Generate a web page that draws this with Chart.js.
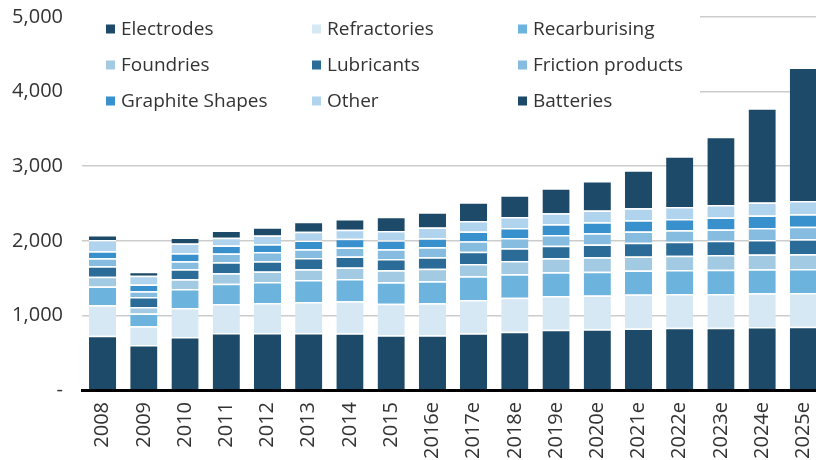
<!DOCTYPE html>
<html>
<head>
<meta charset="utf-8">
<script src="https://cdn.jsdelivr.net/npm/chart.js@4.4.1/dist/chart.umd.min.js"></script>
<style>
  html, body { margin: 0; padding: 0; background: #fff; overflow: hidden; }
  #wrap { width: 824px; height: 460px; }
</style>
</head>
<body>
<div id="wrap"><canvas id="graphite" width="824" height="460"></canvas></div>
<script>
// graphite demand by end use (kt)
const years = ['2008','2009','2010','2011','2012','2013','2014','2015','2016e','2017e','2018e','2019e','2020e','2021e','2022e','2023e','2024e','2025e'];

const electrodes     = [728, 603, 711, 764, 764, 764, 760, 733, 733, 760, 782, 808, 813, 826, 835, 835, 845, 849];
const refractories   = [407, 250, 389, 389, 402, 415, 429, 424, 429, 446, 455, 451, 455, 455, 451, 451, 451, 451];
const recarburising  = [254, 174, 254, 272, 282, 295, 300, 286, 295, 318, 313, 318, 318, 322, 322, 326, 322, 322];
const foundries      = [129, 84, 130, 139, 139, 143, 152, 161, 170, 165, 179, 188, 192, 188, 192, 197, 197, 197];
const lubricants     = [140, 134, 134, 148, 139, 152, 148, 152, 152, 165, 170, 170, 174, 183, 188, 192, 197, 201];
const friction       = [108, 80, 108, 117, 125, 117, 121, 130, 134, 139, 139, 143, 148, 152, 152, 152, 161, 170];
const graphiteShapes = [94, 89, 108, 108, 103, 117, 117, 121, 121, 130, 134, 143, 148, 148, 152, 161, 165, 165];
const other          = [152, 117, 130, 103, 117, 117, 121, 125, 143, 143, 148, 148, 157, 161, 161, 165, 174, 179];
const batteries      = [67, 53, 80, 99, 112, 134, 143, 192, 205, 250, 291, 335, 398, 510, 680, 916, 1265, 1788];

const yTicks = [0, 1000, 2000, 3000, 4000, 5000];

const FONT = "'Open Sans', 'Noto Sans', sans-serif";
const TXT = '#333333';

function ds(label, data, color) {
  return {
    label: label,
    data: data,
    backgroundColor: color,
    borderColor: '#ffffff',
    borderWidth: { top: 1.5, left: 0, right: 0, bottom: 0 },
    borderSkipped: 'start',
    barPercentage: 0.66,
    categoryPercentage: 1
  };
}

// legend drawn in 3 columns on a white box over the plot (like the original)
const gridLegend = {
  id: 'gridLegend',
  beforeDatasetsDraw(chart) {
    const ctx = chart.ctx;
    ctx.save();
    ctx.fillStyle = '#ffffff';
    ctx.fillRect(70, 0, 630, 118);
    const colX = [106, 312, 518];
    const rowY = [29, 65, 101];
    ctx.font = '19px ' + FONT;
    ctx.textBaseline = 'middle';
    chart.data.datasets.forEach((d, i) => {
      const x = colX[i % 3];
      const y = rowY[Math.floor(i / 3)];
      ctx.fillStyle = d.backgroundColor;
      ctx.fillRect(x, y - 4.5, 9, 9);
      ctx.fillStyle = TXT;
      ctx.fillText(d.label, x + 15, y + 1);
    });
    ctx.restore();
  }
};

const ctx = document.getElementById('graphite').getContext('2d');
const myChart = new Chart(ctx, {
  type: 'bar',
  data: {
    labels: years,
    datasets: [
      ds('Electrodes', electrodes, '#1d4a68'),
      ds('Refractories', refractories, '#d7e8f5'),
      ds('Recarburising', recarburising, '#6cb4de'),
      ds('Foundries', foundries, '#a3cae3'),
      ds('Lubricants', lubricants, '#2a6b97'),
      ds('Friction products', friction, '#86bcdf'),
      ds('Graphite Shapes', graphiteShapes, '#3891cc'),
      ds('Other', other, '#b0d4ed'),
      ds('Batteries', batteries, '#1d4a68')
    ]
  },
  options: {
    responsive: false,
    animation: false,
    layout: { padding: { top: 17, left: 10, right: 0, bottom: 0 } },
    plugins: {
      legend: { display: false },
      tooltip: { enabled: false }
    },
    scales: {
      x: {
        stacked: true,
        afterFit(scale) {
          scale.height = 70;
          scale.paddingLeft = 0;
          scale.paddingRight = 0;
        },
        grid: { display: false, drawTicks: false },
        border: { display: true, color: '#000000', width: 3 },
        ticks: {
          color: TXT,
          font: { family: FONT, size: 20 },
          minRotation: 90,
          maxRotation: 90,
          padding: 12
        }
      },
      y: {
        stacked: true,
        min: 0,
        max: 5000,
        afterFit(scale) {
          scale.width = 72;
          scale.paddingTop = 0;
          scale.paddingBottom = 0;
        },
        afterBuildTicks(scale) { scale.ticks = yTicks.map(v => ({ value: v })); },
        grid: { color: '#cccccc', lineWidth: 1.5, drawTicks: false },
        border: { display: false },
        ticks: {
          color: TXT,
          font: { family: FONT, size: 20 },
          padding: 19,
          callback: (v) => v === 0 ? '-' : v.toLocaleString('en-US')
        }
      }
    }
  },
  plugins: [gridLegend]
});
</script>
</body>
</html>
